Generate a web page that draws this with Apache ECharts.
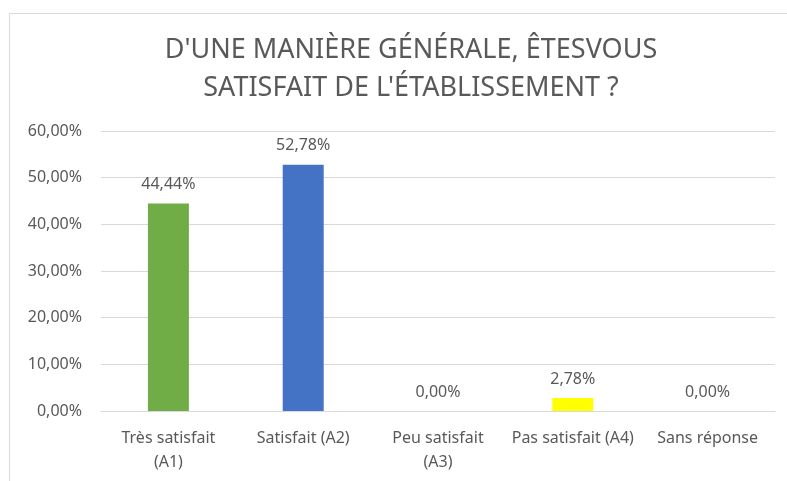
<!DOCTYPE html>
<html>
<head>
<meta charset="utf-8">
<script src="https://cdn.jsdelivr.net/npm/echarts@6/dist/echarts.min.js"></script>
<style>
  html, body { margin: 0; padding: 0; background: #fff; }
  #chart { width: 787px; height: 481px; }
</style>
</head>
<body>
<div id="chart"></div>
<script>
const categories = ["Très satisfait\n(A1)", "Satisfait (A2)", "Peu satisfait\n(A3)", "Pas satisfait (A4)", "Sans réponse"]
const values = [44.44, 52.78, 0, 2.78, 0]
const barColors = ["#70AD47", "#4472C4", "#A5A5A5", "#FFFF00", "#5B9BD5"]
const titleLines = ["D'UNE MANIÈRE GÉNÉRALE, ÊTESVOUS", "SATISFAIT DE L'ÉTABLISSEMENT ?"]

const pct = v => v.toFixed(2).replace(".", ",") + "%"
const font = "'Noto Sans', sans-serif"

const chart = echarts.init(document.getElementById("chart"))

chart.setOption({
  animation: false,
  textStyle: { fontFamily: font },
  graphic: [
    {
      type: "rect",
      shape: { x: 9.5, y: 13.5, width: 820, height: 520 },
      style: { fill: "none", stroke: "#D9D9D9", lineWidth: 1 }
    }
  ],
  title: {
    text: titleLines.join("\n"),
    left: 406,
    top: 26,
    textAlign: "center",
    textStyle: {
      color: "#595959",
      fontSize: 27,
      fontWeight: "normal",
      lineHeight: 38,
      fontFamily: font
    }
  },
  grid: { left: 101, right: 12, top: 131, bottom: 70 },
  xAxis: {
    type: "category",
    data: categories,
    axisLine: { lineStyle: { color: "#D9D9D9" } },
    axisTick: { show: false },
    axisLabel: {
      interval: 0,
      color: "#595959",
      fontSize: 16,
      lineHeight: 24,
      margin: 15
    }
  },
  yAxis: {
    type: "value",
    min: 0,
    max: 60,
    interval: 10,
    axisLine: { show: false },
    axisTick: { show: false },
    splitLine: { lineStyle: { color: "#D9D9D9" } },
    axisLabel: {
      color: "#595959",
      fontSize: 16,
      margin: 19,
      formatter: v => pct(v)
    }
  },
  series: [
    {
      type: "bar",
      data: values.map((v, i) => ({ value: v, itemStyle: { color: barColors[i] } })),
      barWidth: 41,
      label: {
        show: true,
        position: "top",
        distance: 11,
        color: "#595959",
        fontSize: 16,
        formatter: p => pct(p.value)
      }
    }
  ]
})
</script>
</body>
</html>
